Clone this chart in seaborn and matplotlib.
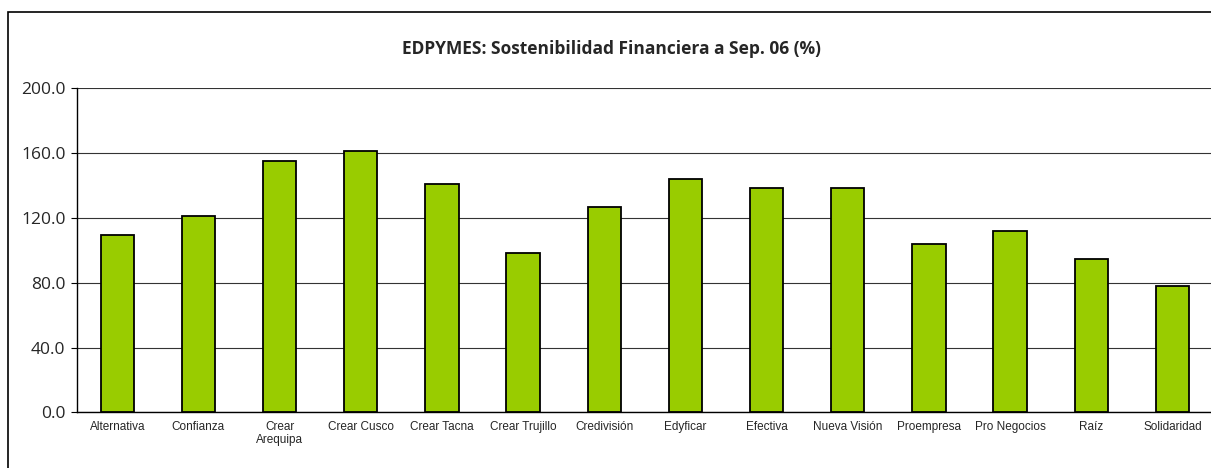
import numpy as np
import pandas as pd
import matplotlib.pyplot as plt
import matplotlib.patches as mpatches
import seaborn as sns

categories = ['Alternativa', 'Confianza', 'Crear\nArequipa', 'Crear Cusco', 'Crear Tacna',
              'Crear Trujillo', 'Credivisión', 'Edyficar', 'Efectiva', 'Nueva Visión',
              'Proempresa', 'Pro Negocios', 'Raíz', 'Solidaridad']
values = [109.5, 121.0, 155.4, 161.4, 141.2, 98.4, 126.8, 144.3, 138.5, 138.5,
          104.1, 112.2, 94.9, 77.8]
yticks = [0, 40, 80, 120, 160, 200]
title = 'EDPYMES: Sostenibilidad Financiera a Sep. 06 (%)'

df = pd.DataFrame({'edpyme': categories, 'valor': values})

sns.set_style('white')
plt.rcParams['font.family'] = ['Liberation Sans', 'DejaVu Sans']

fig = plt.figure(figsize=(12.11, 4.68), dpi=100)
ax = fig.add_axes([0.0633, 0.119, 0.9384, 0.692])

sns.barplot(data=df, x='edpyme', y='valor', color='#99CC00', width=0.41,
            edgecolor='black', linewidth=1.3, saturation=1, ax=ax, zorder=3)

ax.set_ylim(0, 200)
ax.set_xlim(-0.5, len(categories) - 0.5)
ax.set_yticks(yticks)
ax.set_yticklabels([f'{v:.1f}' for v in yticks], fontsize=12.5, family='Open Sans')
ax.tick_params(axis='y', length=4, width=0.8, color='black', pad=4, left=True)
ax.tick_params(axis='x', length=0, labelsize=8.5, pad=6)
ax.set_xlabel('')
ax.set_ylabel('')
ax.grid(True, axis='y', color='#333333', linewidth=0.8, zorder=0)
ax.set_axisbelow(True)

for s in ['top', 'right']:
    ax.spines[s].set_visible(False)
for s in ['left', 'bottom']:
    ax.spines[s].set_color('black')
    ax.spines[s].set_linewidth(1.0)

fig.text(0.505, 1 - 49 / 468, title, ha='center', va='center',
         fontsize=12.5, fontweight='bold', family='Open Sans')

# outer chart border (cut off at right and bottom in the reference)
border = mpatches.Rectangle((8 / 1211, -0.05), 1.1, 1 - 12 / 468 + 0.05,
                            transform=fig.transFigure, fill=False,
                            edgecolor='black', linewidth=1.2)
fig.patches.append(border)

fig.savefig('out.png', dpi=100)
